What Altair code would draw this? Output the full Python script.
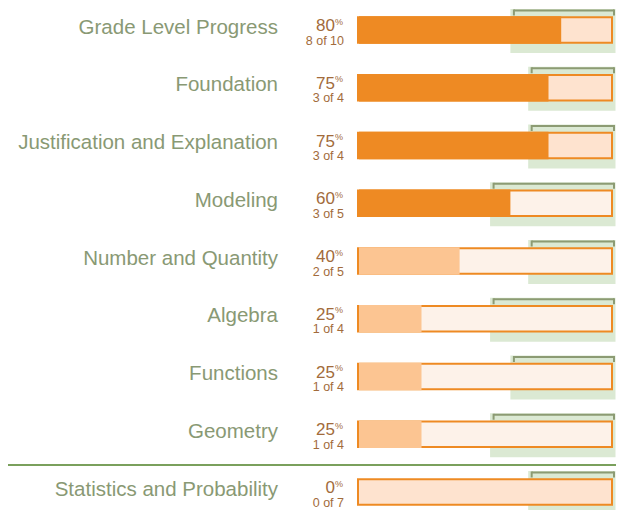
import altair as alt
import pandas as pd

categories = [
    "Grade Level Progress",
    "Foundation",
    "Justification and Explanation",
    "Modeling",
    "Number and Quantity",
    "Algebra",
    "Functions",
    "Geometry",
    "Statistics and Probability",
]
percent = [80, 75, 75, 60, 40, 25, 25, 25, 0]
earned = [8, 3, 3, 3, 2, 1, 1, 1, 0]
possible = [10, 4, 4, 5, 5, 4, 4, 4, 7]
target = [0.60, 0.67, 0.67, 0.52, 0.67, 0.52, 0.60, 0.52, 0.67]
track = ["deep", "deep", "deep", "pale", "pale", "pale", "pale", "pale", "deep"]

df = pd.DataFrame({
    "row": list(range(len(categories))),
    "category": categories,
    "pct": [p / 100 for p in percent],
    "pct_label": [str(p) for p in percent],
    "count_label": [f"{e} of {t}" for e, t in zip(earned, possible)],
    "target": target,
    "zero": 0.0,
    "full": 1.0,
    "status": ["met" if p / 100 >= t else "below" for p, t in zip(percent, target)],
    "track": track,
})

X = alt.Scale(domain=[0, 1], range=[350, 604])
Y = alt.Scale(domain=[0, 8], range=[22, 484])
FILL = alt.Scale(domain=["met", "below", "deep", "pale"],
                 range=["#ee8a23", "#fcc592", "#fee3cf", "#fdf2e9"])


def xq(f):
    return alt.X(f"{f}:Q", scale=X, axis=None)


def yq():
    return alt.Y("row:Q", scale=Y, axis=None)


base = alt.Chart(df)
GREEN = "#dbe9d3"
BRACKET = "#8c9b73"
BROWN = "#a26b3b"
LABEL = "#899974"
FONT = "Liberation Sans"

green = base.mark_rect(color=GREEN, yOffset=-21, y2Offset=23, x2Offset=3.5).encode(
    x=xq("target"), x2="full:Q", y=yq(), y2="row:Q")

bracket_top = base.mark_rule(color=BRACKET, strokeWidth=2, xOffset=3.5, x2Offset=2,
                             yOffset=-19.5).encode(
    x=xq("target"), x2="full:Q", y=yq())

tick_left = base.mark_rule(color=BRACKET, strokeWidth=2, xOffset=3.5,
                           yOffset=-20.5, y2Offset=-14.5).encode(
    x=xq("target"), y=yq(), y2="row:Q")

tick_right = base.mark_rule(color=BRACKET, strokeWidth=2, xOffset=2,
                            yOffset=-20.5, y2Offset=-14.5).encode(
    x=xq("full"), y=yq(), y2="row:Q")

outline = base.mark_rect(stroke="#ee8a23", strokeWidth=2, yOffset=-12.8, y2Offset=12.8).encode(
    x=xq("zero"), x2="full:Q", y=yq(), y2="row:Q",
    fill=alt.Fill("track:N", scale=FILL, legend=None))

fill = base.transform_filter("datum.pct > 0").mark_rect(
    xOffset=1, yOffset=-13.8, y2Offset=13.8).encode(
    x=xq("zero"), x2="pct:Q", y=yq(), y2="row:Q",
    fill=alt.Fill("status:N", scale=FILL, legend=None))

label = base.mark_text(align="right", baseline="alphabetic", dy=3.5, fontSize=20.5,
                       font=FONT, color=LABEL).encode(
    x=alt.value(270), y=yq(), text="category:N")

pct_text = base.mark_text(align="right", baseline="alphabetic", dy=1, fontSize=17,
                          font=FONT, color=BROWN).encode(
    x=alt.value(327), y=yq(), text="pct_label:N")

pct_sign = base.mark_text(align="left", baseline="alphabetic", dy=-5.5, fontSize=9,
                          font=FONT, color=BROWN).encode(
    x=alt.value(327), y=yq(), text=alt.value("%"))

count_text = base.mark_text(align="right", baseline="alphabetic", dy=14.5, fontSize=12.5,
                            font=FONT, color=BROWN).encode(
    x=alt.value(336), y=yq(), text="count_label:N")

sep = alt.Chart(pd.DataFrame({"k": [0]})).mark_rule(color="#7aa05c", strokeWidth=2).encode(
    x=alt.value(0), x2=alt.value(608), y=alt.value(457))

chart = alt.layer(
    green, bracket_top, tick_left, tick_right, outline, fill,
    label, pct_text, pct_sign, count_text, sep
).properties(
    width=608, height=502, padding=0,
    autosize=alt.AutoSizeParams(type="none"),
).configure_view(stroke=None)

chart.save("out.html", embed_options={"renderer": "svg", "actions": False})
